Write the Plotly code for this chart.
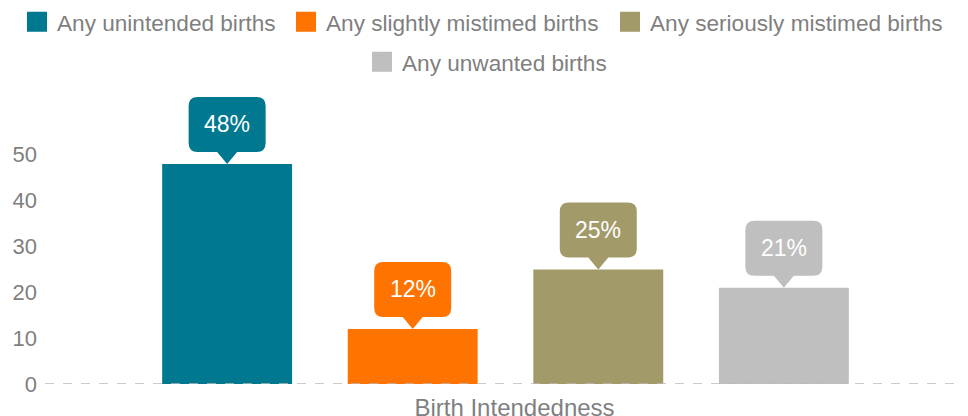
import plotly.graph_objects as go

# data
category = ["Birth Intendedness"]
series = ["Any unintended births", "Any slightly mistimed births",
          "Any seriously mistimed births", "Any unwanted births"]
values = [48, 12, 25, 21]
colors = ["#00788F", "#FF7300", "#A39A6A", "#BFBFBF"]
y_ticks = [0, 10, 20, 30, 40, 50]

W, H = 968, 416
ML, MR, MB = 37, 10, 40
Y_MAX = 65
PX_PER_UNIT = 4.58
MT = H - MB - Y_MAX * PX_PER_UNIT
BARGAP, GROUPGAP = 0.194, 0.30
FONT = "Liberation Sans, Arial, sans-serif"
GREY = "#7F7F7F"

# one single-entry legend per series so the two-row layout can be placed exactly
legend_ids = ["legend", "legend2", "legend3", "legend4"]
legend_left = [9, 278, 602, 354]    # px from left
legend_top = [-7, -7, -7, 33]       # px from top

fig = go.Figure()
for i, (name, v, c) in enumerate(zip(series, values, colors)):
    fig.add_trace(go.Bar(
        x=category, y=[v], name=name, marker=dict(color=c, line_width=0),
        showlegend=False, hoverinfo="skip",
    ))
    # legend-only entry with a larger square swatch
    fig.add_trace(go.Scatter(
        x=[None], y=[None], name=name, mode="markers", legend=legend_ids[i],
        marker=dict(symbol="square", size=16, color=c, line=dict(color=c, width=4)),
        hoverinfo="skip",
    ))

# callout bubbles above each bar
bw, bh, tip_h, tip_w, r = 77, 55, 12, 10, 9
half = bw / 2
bubble = (
    f"M 0,0 L {-tip_w},{tip_h} L {-half + r},{tip_h} Q {-half},{tip_h} {-half},{tip_h + r} "
    f"L {-half},{tip_h + bh - r} Q {-half},{tip_h + bh} {-half + r},{tip_h + bh} "
    f"L {half - r},{tip_h + bh} Q {half},{tip_h + bh} {half},{tip_h + bh - r} "
    f"L {half},{tip_h + r} Q {half},{tip_h} {half - r},{tip_h} L {tip_w},{tip_h} Z"
)
slot = (1 - BARGAP) / len(series)
for i, (v, c) in enumerate(zip(values, colors)):
    xc = -(1 - BARGAP) / 2 + (i + 0.5) * slot
    fig.add_shape(type="path", xref="x", yref="y", xsizemode="pixel", ysizemode="pixel",
                  xanchor=xc, yanchor=v, path=bubble, fillcolor=c, line_width=0,
                  layer="above")
    fig.add_annotation(x=xc, y=v, xref="x", yref="y", text=f"{v}%", showarrow=False,
                       yshift=tip_h + bh / 2, yanchor="middle",
                       font=dict(family=FONT, size=23, color="white"))

# dashed baseline
fig.add_shape(type="line", xref="paper", yref="y", x0=0, x1=1, y0=0, y1=0,
              line=dict(color="#BBBBBB", width=1.5, dash="dash"), layer="above")

plot_h = H - MT - MB
leg_style = dict(orientation="h", xref="container", yref="paper",
                 xanchor="left", yanchor="top",
                 font=dict(family=FONT, size=22.6, color=GREY),
                 bgcolor="rgba(0,0,0,0)", itemclick=False, itemdoubleclick=False)
legends = {lid: dict(x=lx / W, y=(H - MB - ly) / plot_h, **leg_style)
           for lid, lx, ly in zip(legend_ids, legend_left, legend_top)}

fig.update_layout(
    width=W, height=H,
    margin=dict(l=ML, r=MR, t=MT, b=MB, autoexpand=False),
    paper_bgcolor="white", plot_bgcolor="white",
    barmode="group", bargap=BARGAP, bargroupgap=GROUPGAP,
    font=dict(family=FONT, color=GREY),
    showlegend=True,
    **legends,
    xaxis=dict(showline=False, showgrid=False, ticks="",
               ticklabelstandoff=7, ticklabelshift=9,
               tickfont=dict(size=24, color=GREY)),
    yaxis=dict(range=[0, Y_MAX], tickvals=y_ticks, showgrid=False, zeroline=False,
               showline=False, ticks="", ticklabelstandoff=7,
               tickfont=dict(size=22, color=GREY)),
)

fig.write_html("out.html")
